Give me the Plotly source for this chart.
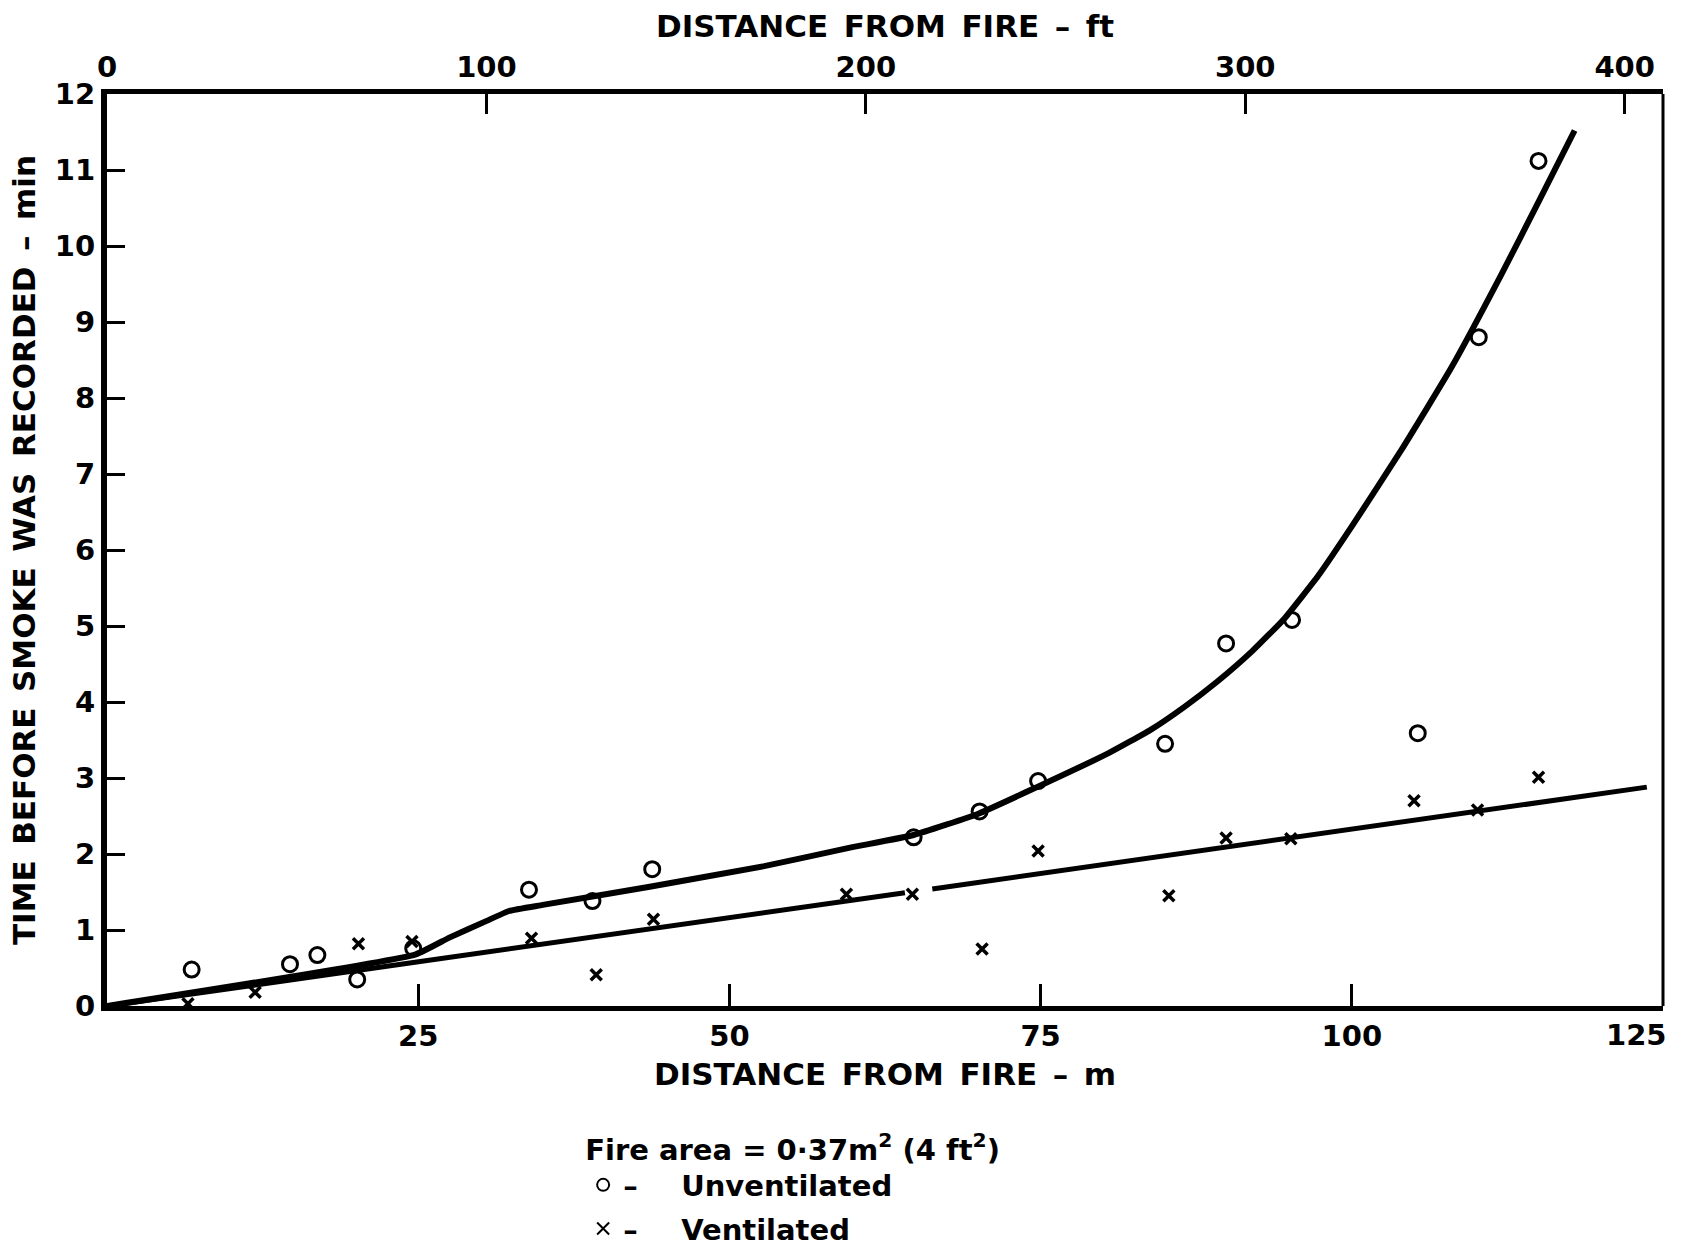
import plotly.graph_objects as go

# Observed arrival times of smoke (min) at each distance from the fire (m)
UNVENT_DIST_M = [6.8, 14.7, 16.9, 20.1, 24.6, 33.9, 39.0, 43.8, 64.8, 70.1,
                 74.8, 85.0, 89.9, 95.2, 105.3, 110.2, 115.0]
UNVENT_TIME_MIN = [0.48, 0.55, 0.67, 0.35, 0.76, 1.53, 1.38, 1.80, 2.22, 2.56,
                   2.96, 3.45, 4.77, 5.08, 3.59, 8.80, 11.12]

VENT_DIST_M = [6.5, 11.9, 20.2, 24.5, 34.1, 39.3, 43.9, 59.4, 64.7, 70.3,
               74.8, 85.3, 89.9, 95.1, 105.0, 110.1, 115.0]
VENT_TIME_MIN = [0.03, 0.18, 0.82, 0.85, 0.89, 0.41, 1.14, 1.47, 1.47, 0.75,
                 2.04, 1.45, 2.21, 2.20, 2.70, 2.58, 3.01]

# Hand-drawn trend lines through each set of observations
UNVENT_CURVE_M = [0, 24.8, 27.5, 30.5, 32.3, 35.0, 43.6, 52.8, 59.6, 64.8,
                  70.0, 74.7, 80.5, 83.8, 86.5, 89.2, 92.0, 94.6, 97.3,
                  100.0, 104.0, 108.0, 112.0, 115.0, 117.9]
UNVENT_CURVE_MIN = [0, 0.68, 0.90, 1.12, 1.25, 1.33, 1.57, 1.84, 2.08, 2.25,
                    2.53, 2.88, 3.33, 3.63, 3.93, 4.27, 4.67, 5.10, 5.66,
                    6.31, 7.32, 8.40, 9.62, 10.58, 11.52]

VENT_LINE_M = [0, 64.1, None, 66.3, 123.7]
VENT_LINE_MIN = [0, 1.49, None, 1.54, 2.88]

# Axis ticks
M_TICKS = [25, 50, 75, 100]
M_MAX = 125
FT_TICKS = [0, 100, 200, 300, 400]
M_PER_FT = 0.3048
MIN_TICKS = list(range(0, 13))

FONT = "DejaVu Sans"
INK = "black"
SP = "\u2002"  # en space between words of the lettered titles

fig = go.Figure()

# the trend curve sits on the top (feet-labelled) axis, which shares the metre scale
fig.add_trace(go.Scatter(
    x=UNVENT_CURVE_M, y=UNVENT_CURVE_MIN, mode="lines", xaxis="x2",
    line=dict(color=INK, width=6, shape="spline", smoothing=0.4),
    showlegend=False, hoverinfo="skip"))
fig.add_trace(go.Scatter(
    x=VENT_LINE_M, y=VENT_LINE_MIN, mode="lines", connectgaps=False,
    line=dict(color=INK, width=5), showlegend=False, hoverinfo="skip"))

fig.add_trace(go.Scatter(
    x=UNVENT_DIST_M, y=UNVENT_TIME_MIN, mode="markers",
    name="\u2013\u2003\u2002Unventilated", legendgroup="u",
    marker=dict(symbol="circle", size=15, color="white",
                line=dict(color=INK, width=3))))
fig.add_trace(go.Scatter(
    x=VENT_DIST_M, y=VENT_TIME_MIN, mode="markers",
    name="\u2013\u2003\u2002Ventilated", legendgroup="v",
    marker=dict(symbol="x-thin", size=11, color=INK,
                line=dict(color=INK, width=3.5))))

bold = dict(family=FONT, color=INK, weight="bold")
axis_common = dict(showgrid=False, zeroline=False, showline=True,
                   linecolor=INK, ticks="inside", tickcolor=INK,
                   tickfont=dict(size=29, **bold))
title_font = dict(size=31, **bold)

fig.update_layout(
    width=1682, height=1247, autosize=False,
    paper_bgcolor="white", plot_bgcolor="white",
    margin=dict(l=107, r=19, t=94, b=241, autoexpand=False),
    font=dict(family=FONT, color=INK),
    xaxis=dict(range=[0, M_MAX], tickvals=M_TICKS, ticklen=22, tickwidth=2.5,
               linewidth=5, ticklabelstandoff=0,
               title=dict(text=f"DISTANCE{SP}FROM{SP}FIRE{SP}\u2013{SP}m",
                          standoff=13, font=title_font),
               **axis_common),
    xaxis2=dict(matches="x", range=[0, M_MAX], overlaying="x", side="top",
                anchor="y",
                tickvals=[ft * M_PER_FT for ft in FT_TICKS],
                ticktext=[str(ft) for ft in FT_TICKS],
                ticklen=20, tickwidth=2.5, linewidth=5, ticklabelstandoff=0,
                title=dict(text=f"DISTANCE{SP}FROM{SP}FIRE{SP}\u2013{SP}ft",
                           standoff=5, font=title_font),
                **axis_common),
    yaxis=dict(range=[0, 12], tickvals=MIN_TICKS, ticklen=18, tickwidth=2.5,
               linewidth=6,
               title=dict(text=f"TIME{SP}BEFORE{SP}SMOKE{SP}WAS{SP}RECORDED{SP}\u2013{SP}min",
                          standoff=12, font=dict(size=31, **bold)),
               **axis_common),
    legend=dict(x=0.306, y=-0.127, xanchor="left", yanchor="top",
                bgcolor="rgba(0,0,0,0)", itemsizing="constant",
                tracegroupgap=3,
                font=dict(size=29, **bold),
                title=dict(text="Fire area = 0\u00b737m<sup>2</sup> (4 ft<sup>2</sup>)",
                           font=dict(size=29, **bold))),
    annotations=[dict(text=str(M_MAX), x=M_MAX, y=0, xref="x", yref="y",
                      xanchor="right", yanchor="top", yshift=-10, xshift=6,
                      showarrow=False, font=dict(size=29, **bold))],
    shapes=[dict(type="line", xref="paper", yref="paper", x0=1, x1=1,
                 y0=0, y1=1, line=dict(color=INK, width=3))],
)

fig.write_html("out.html")
